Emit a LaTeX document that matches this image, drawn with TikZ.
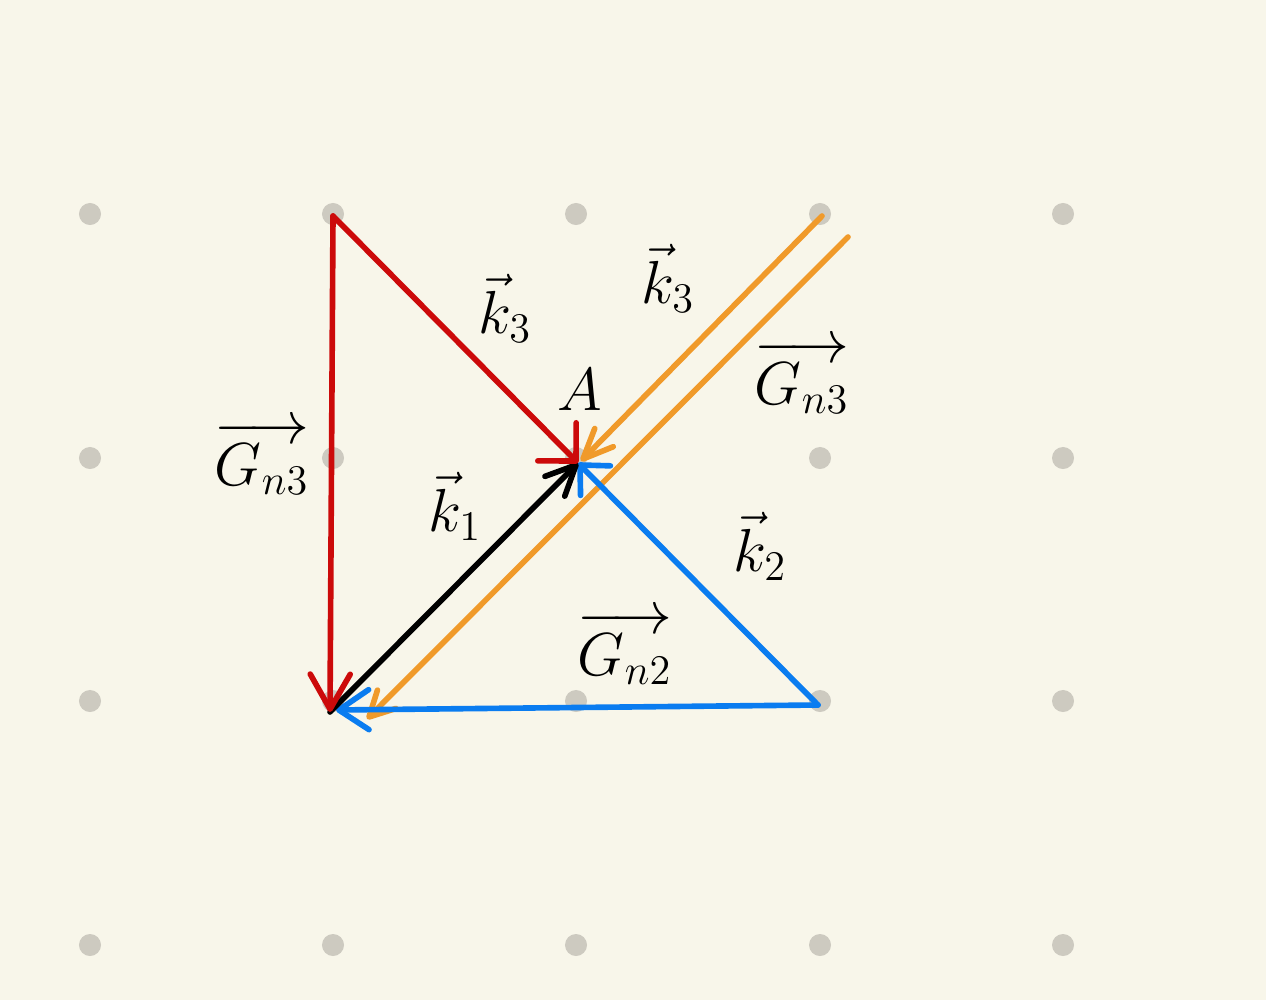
\documentclass[tikz,border=0pt]{standalone}
\usepackage{amsmath,amssymb}
\usepackage{xcolor}
\usetikzlibrary{arrows.meta}

\definecolor{paper}{HTML}{F8F6EA}
\definecolor{griddot}{HTML}{CDCAC0}
\definecolor{redpen}{HTML}{CC0A0A}
\definecolor{bluepen}{HTML}{0A7CF0}
\definecolor{orangepen}{HTML}{F09A2A}

\tikzset{
    vec/.style={line width=1.6pt, line cap=round, line join=round,
        -{Straight Barb[round, #1]}},
    vec/.default={length=3mm, width=4mm},
    lbl/.style={font=\fontsize{18}{21}\selectfont, text=black, inner sep=1pt}
}

\begin{document}
\begin{tikzpicture}[x=0.01cm, y=-0.01cm]
    % paper
    \fill[paper] (0,0) rectangle (1266,1000);
    \useasboundingbox (0,0) rectangle (1266,1000);
    % grid dots
    \foreach \x in {90, 333, 576, 820, 1063} {
        \foreach \y in {214, 458, 701, 945} {
            \fill[griddot] (\x,\y) circle[radius=1.1mm];
        }
    }
    % corner points
    \coordinate (P) at (333,216);
    \coordinate (A) at (578,463);
    \coordinate (BL) at (330,712);
    \coordinate (BLb) at (336,710);
    \coordinate (BR) at (818,705);
    \coordinate (O1) at (822,216);
    \coordinate (O1a) at (581,461);
    \coordinate (O2) at (848,237);
    \coordinate (O2b) at (367,719);
    % orange pair
    \draw[vec={length=3mm, width=2.6mm}, orangepen] (O1) -- (O1a);
    \draw[vec={length=2.5mm, width=2.6mm}, orangepen] (O2) -- (O2b);
    % blue triangle sides
    \draw[vec={length=2.2mm, width=4.2mm}, bluepen] (BR) -- (A);
    \draw[vec={length=3mm, width=4mm}, bluepen] (BR) -- (BLb);
    % black k1
    \draw[vec={length=3mm, width=2.8mm}, black] (BL) -- (A);
    % red sides
    \draw[vec={length=3.5mm, width=4mm}, redpen] (P) -- (BL);
    \draw[vec={length=2.7mm, width=5.4mm}, redpen] (P) -- (A);
    % labels
    \node[lbl] (lblA) at (580,390) {$A$};
    \node[lbl] (lblk3a) at (505,308) {$\vec{k}_3$};
    \node[lbl] (lblk3b) at (668,278) {$\vec{k}_3$};
    \node[lbl] (lblk1) at (455,506) {$\vec{k}_1$};
    \node[lbl] (lblk2) at (760,546) {$\vec{k}_2$};
    \node[lbl] (lblG3a) at (262,458) {$\overrightarrow{G_{n3}}$};
    \node[lbl] (lblG3b) at (802,377) {$\overrightarrow{G_{n3}}$};
    \node[lbl] (lblG2) at (625,648) {$\overrightarrow{G_{n2}}$};
\end{tikzpicture}
\end{document}
